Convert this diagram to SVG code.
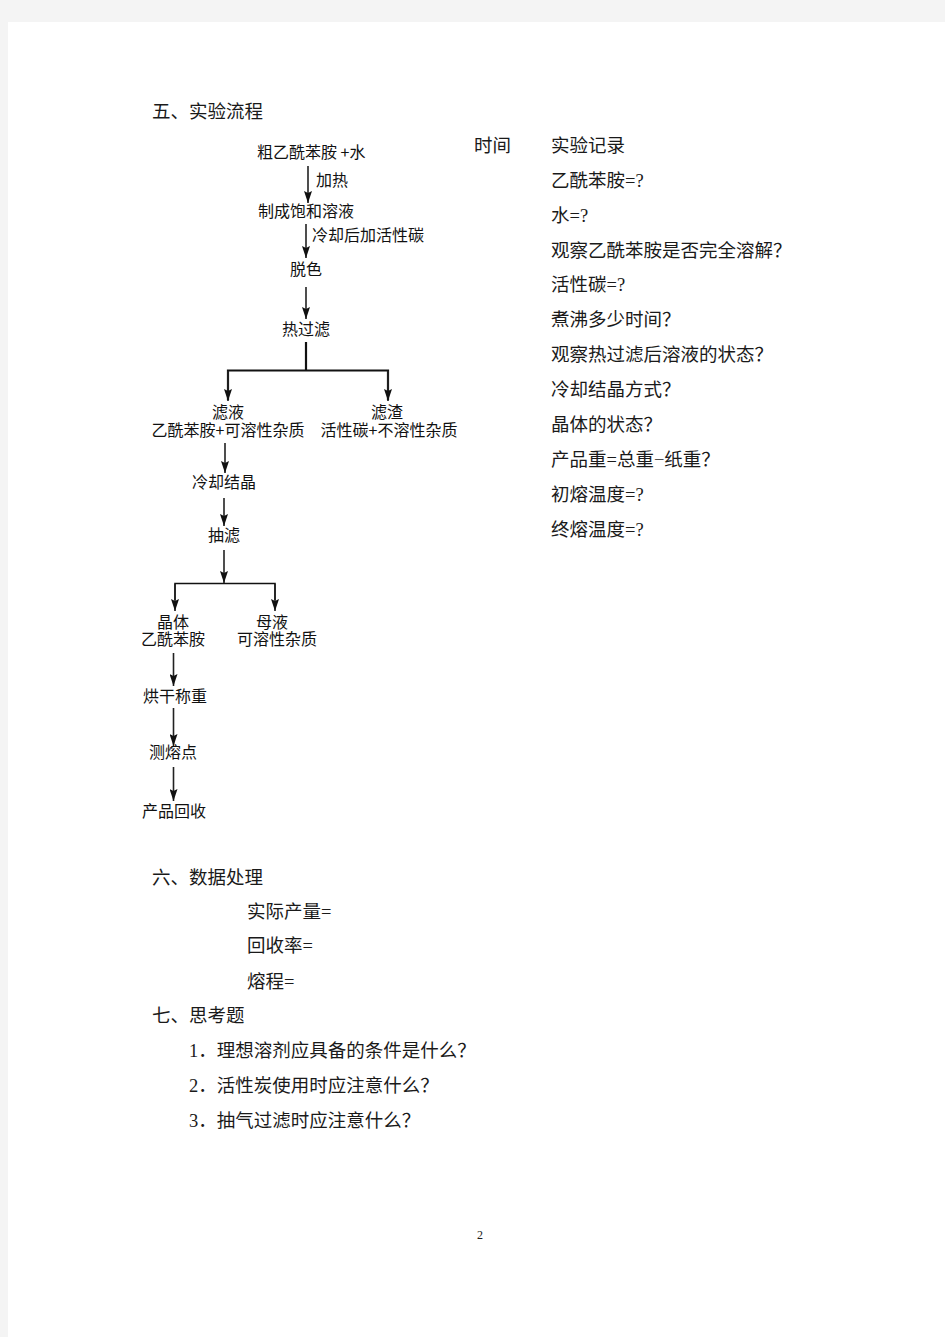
<svg xmlns="http://www.w3.org/2000/svg" width="945" height="1337" viewBox="0 0 945 1337">
<defs>
<marker id="ah" viewBox="0 0 12 8" refX="12" refY="4" markerWidth="12" markerHeight="8" markerUnits="userSpaceOnUse" orient="auto">
<path d="M0,0 L12,4 L0,8 L2,4 z" fill="#111"/>
</marker>
<style>
.s{font-family:"Liberation Serif","Noto Sans CJK SC",serif;font-size:18.5px;fill:#1a1a1a}
.f{font-family:"Noto Sans CJK SC","Liberation Sans",sans-serif;font-size:16px;fill:#111}
.m{text-anchor:middle}
.a{stroke:#222;stroke-width:1.6;fill:none;marker-end:url(#ah)}
.b{stroke:#111;stroke-width:2.2;fill:none}
</style>
</defs>
<rect x="0" y="0" width="945" height="1337" fill="#f4f4f4"/>
<rect x="8" y="22" width="937" height="1315" fill="#ffffff"/>

<g id="headings">
<text class="s" x="152" y="118">五、实验流程</text>
<text class="s" x="152" y="884">六、数据处理</text>
<text class="s" x="247" y="918">实际产量=</text>
<text class="s" x="247" y="952">回收率=</text>
<text class="s" x="247" y="988">熔程=</text>
<text class="s" x="152" y="1022">七、思考题</text>
<text class="s" x="189" y="1057">1．理想溶剂应具备的条件是什么？</text>
<text class="s" x="189" y="1092">2．活性炭使用时应注意什么？</text>
<text class="s" x="189" y="1127">3．抽气过滤时应注意什么？</text>
<text class="s m" x="480" y="1239" style="font-size:12px">2</text>
</g>

<g id="record">
<text class="s" x="474" y="152">时间</text>
<text class="s" x="551" y="152">实验记录</text>
<text class="s" x="551" y="187">乙酰苯胺=?</text>
<text class="s" x="551" y="222">水=?</text>
<text class="s" x="551" y="257">观察乙酰苯胺是否完全溶解？</text>
<text class="s" x="551" y="291">活性碳=?</text>
<text class="s" x="551" y="326">煮沸多少时间？</text>
<text class="s" x="551" y="361">观察热过滤后溶液的状态？</text>
<text class="s" x="551" y="396">冷却结晶方式？</text>
<text class="s" x="551" y="431">晶体的状态？</text>
<text class="s" x="551" y="466">产品重=总重−纸重？</text>
<text class="s" x="551" y="501">初熔温度=?</text>
<text class="s" x="551" y="536">终熔温度=?</text>
</g>

<g id="connectors">
<line class="a" x1="308" y1="166" x2="308" y2="203"/>
<line class="a" x1="306" y1="224" x2="306" y2="258"/>
<line class="a" x1="306" y1="287" x2="306" y2="319"/>
<line class="b" x1="306" y1="342" x2="306" y2="370"/>
<polyline class="b" points="228,400 228,370.5 388,370.5 388,400" style="marker:none"/>
<line class="a" x1="228" y1="371" x2="228" y2="401"/>
<line class="a" x1="388" y1="371" x2="388" y2="401"/>
<line class="a" x1="225" y1="443" x2="225" y2="473"/>
<line class="a" x1="224" y1="498" x2="224" y2="526"/>
<line class="a" x1="224" y1="550" x2="224" y2="583"/>
<polyline class="b" points="175,600 175,583.5 275,583.5 275,600" style="stroke-width:1.6"/>
<line class="a" x1="175" y1="584" x2="175" y2="611"/>
<line class="a" x1="275" y1="584" x2="275" y2="611"/>
<line class="a" x1="173.5" y1="653" x2="173.5" y2="686"/>
<line class="a" x1="173.5" y1="708" x2="173.5" y2="746"/>
<line class="a" x1="173.5" y1="767" x2="173.5" y2="801"/>
</g>

<g id="n-start"><text class="f" x="257" y="158">粗乙酰苯胺 +水</text></g>
<g id="l-heat"><text class="f" x="316" y="186">加热</text></g>
<g id="n-saturate"><text class="f" x="258" y="217">制成饱和溶液</text></g>
<g id="l-carbon"><text class="f" x="312" y="241">冷却后加活性碳</text></g>
<g id="n-decolor"><text class="f" x="290" y="275">脱色</text></g>
<g id="n-hotfilter"><text class="f" x="282" y="335">热过滤</text></g>
<g id="n-filtrate">
<text class="f m" x="228" y="418">滤液</text>
<text class="f m" x="228" y="436">乙酰苯胺+可溶性杂质</text>
</g>
<g id="n-residue">
<text class="f m" x="387" y="418">滤渣</text>
<text class="f m" x="389" y="436">活性碳+不溶性杂质</text>
</g>
<g id="n-cool"><text class="f m" x="224" y="488">冷却结晶</text></g>
<g id="n-suction"><text class="f m" x="224" y="541">抽滤</text></g>
<g id="n-crystal">
<text class="f m" x="173" y="628">晶体</text>
<text class="f m" x="173" y="645">乙酰苯胺</text>
</g>
<g id="n-mother">
<text class="f m" x="272" y="628">母液</text>
<text class="f m" x="277" y="645">可溶性杂质</text>
</g>
<g id="n-dry"><text class="f m" x="175" y="702">烘干称重</text></g>
<g id="n-mp"><text class="f m" x="173" y="758">测熔点</text></g>
<g id="n-recover"><text class="f m" x="174" y="817">产品回收</text></g>
</svg>
